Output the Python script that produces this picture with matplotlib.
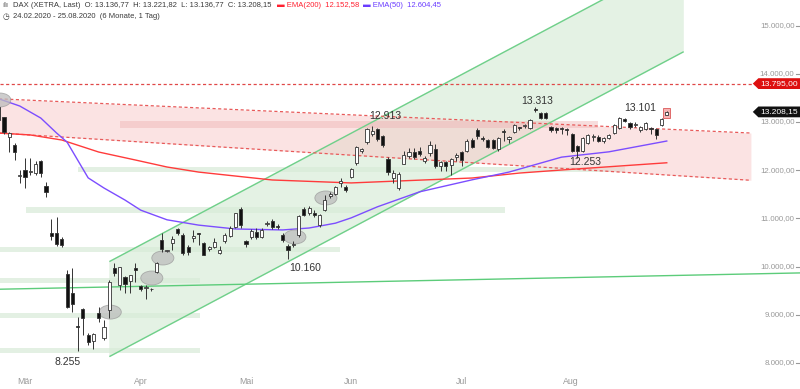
import numpy as np
import matplotlib.pyplot as plt
from matplotlib.patches import Ellipse, Polygon
import matplotlib.transforms as mtransforms

plt.rcParams['font.family'] = ['Liberation Sans', 'DejaVu Sans']

# daily candles 24.02.2020 - 25.08.2020 (open, high, low, close)
opens = [13300, 13100, 12690, 12520, 11880, 12003, 11960, 11940, 12190, 11670,
         10697, 10697, 10572, 9846, 9452, 8750, 9120, 8581, 8457, 9037,
         8519, 9099, 9970, 9618, 9783, 9700, 9970, 9597, 9560, 9540,
         9890, 10551, 10320, 10489, 10779, 10655, 10406, 10600, 10690, 10489,
         10370, 10406, 10282, 10530, 10640, 10820, 11195, 10530, 10614, 10720,
         10614, 10880, 10945, 10830, 10650, 10430, 10440, 10650, 11200, 11110,
         11120, 10862, 11174, 11470, 11510, 11735, 11650, 11860, 12140, 12390,
         12580, 12740, 12850, 12700, 12230, 11840, 11620, 12130, 12300, 12376,
         12400, 12190, 12356, 12440, 12090, 12160, 12100, 12280, 12376, 12400,
         12625, 12830, 12650, 12625, 12625, 12440, 12800, 12650, 12790, 12880,
         12910, 12874, 13260, 13185, 13185, 12895, 12880, 12860, 12840, 12750,
         12500, 12400, 12563, 12680, 12690, 12600, 12667, 12770, 12874, 13060,
         12978, 12940, 12833, 12853, 12860, 12853, 12936, 13137]
highs = [13380, 13110, 12790, 12563, 12003, 12252, 12252, 12200, 12220, 11755,
         10987, 11028, 10614, 9929, 9970, 8954, 9141, 8622, 8622, 9161,
         8892, 9721, 10075, 10000, 9800, 9830, 10075, 9620, 9618, 9560,
         10100, 10697, 10350, 10630, 10800, 10700, 10440, 10760, 10700, 10500,
         10430, 10600, 10430, 10700, 10850, 11120, 11230, 10560, 10780, 10790,
         10800, 10940, 10980, 10880, 10700, 10470, 10530, 11080, 11230, 11260,
         11180, 11100, 11485, 11540, 11680, 11830, 11700, 12050, 12500, 12460,
         12870, 12913, 12870, 12720, 12280, 12000, 11960, 12390, 12450, 12450,
         12480, 12290, 12600, 12540, 12200, 12200, 12250, 12350, 12400, 12650,
         12660, 12870, 12700, 12650, 12650, 12680, 12850, 12700, 12960, 12900,
         12950, 13060, 13313, 13200, 13210, 12920, 12900, 12900, 12880, 12780,
         12520, 12680, 12740, 12760, 12720, 12690, 12750, 12960, 13101, 13090,
         13000, 12990, 12920, 13000, 12900, 12870, 13080, 13222]
lows = [13000, 12760, 12376, 12210, 11735, 11630, 11900, 11900, 11860, 11444,
        10551, 10427, 10406, 9140, 9058, 8255, 8581, 8374, 8300, 8850,
        8480, 8930, 9800, 9514, 9450, 9452, 9680, 9500, 9330, 9500,
        9870, 10300, 10300, 10344, 10650, 10240, 10240, 10500, 10450, 10230,
        10330, 10380, 10260, 10480, 10620, 10800, 10800, 10400, 10570, 10580,
        10590, 10850, 10780, 10780, 10500, 10160, 10400, 10620, 11050, 11080,
        11020, 10830, 11150, 11430, 11480, 11660, 11550, 11830, 12100, 12350,
        12540, 12700, 12600, 12480, 11900, 11740, 11580, 12120, 12250, 12230,
        12300, 12150, 12300, 12050, 11990, 11980, 11900, 12200, 12080, 12380,
        12450, 12640, 12600, 12460, 12440, 12400, 12600, 12560, 12780, 12830,
        12880, 12850, 13200, 13060, 13060, 12800, 12780, 12750, 12720, 12379,
        12253, 12380, 12540, 12600, 12580, 12560, 12640, 12760, 12860, 12990,
        12850, 12900, 12800, 12840, 12760, 12650, 12920, 13137]
closes = [13035, 12790, 12775, 12367, 11890, 11857, 11985, 12127, 11944, 11542,
          10625, 10475, 10439, 9161, 9232, 8742, 8939, 8442, 8610, 8929,
          8742, 9690, 9874, 9991, 9633, 9816, 9936, 9544, 9571, 9525,
          10075, 10356, 10333, 10565, 10697, 10280, 10301, 10626, 10676, 10249,
          10416, 10514, 10336, 10659, 10796, 11107, 10862, 10467, 10730, 10606,
          10760, 10904, 10825, 10820, 10543, 10337, 10465, 11058, 11075, 11223,
          11066, 11074, 11391, 11505, 11657, 11781, 11587, 12021, 12487, 12431,
          12848, 12820, 12642, 12530, 11970, 11949, 11911, 12315, 12382, 12281,
          12331, 12262, 12523, 12093, 12177, 12089, 12232, 12311, 12210, 12605,
          12480, 12700, 12646, 12480, 12460, 12667, 12790, 12690, 12936, 12874,
          12920, 13040, 13248, 13080, 13080, 12838, 12839, 12850, 12833, 12400,
          12400, 12667, 12730, 12690, 12600, 12667, 12730, 12936, 13080, 13020,
          12895, 12957, 12895, 12978, 12853, 12729, 13060, 13208]

# EMA lines (candle index, value)
ema50_idx = [0, 4, 8, 11, 13, 15, 17, 20, 24, 27, 32, 38, 45, 54, 59, 64, 67, 72,
             80, 84, 90, 97, 107, 116, 127]
ema50_val = [13480, 13330, 13080, 12770, 12580, 12210, 11840, 11630, 11380, 11170,
             10970, 10860, 10780, 10760, 10800, 10900, 11010, 11240, 11550, 11650,
             11800, 11960, 12270, 12380, 12604]
ema200_idx = [0, 6, 12, 19, 26, 32, 38, 52, 67, 76, 90, 99, 107, 127]
ema200_val = [12770, 12730, 12625, 12376, 12210, 12065, 11960, 11796, 11735, 11775,
              11837, 11940, 12003, 12153]

month_idx = [5, 27, 47, 67, 88, 108.8]
month_lbl = ['Mär', 'Apr', 'Mai', 'Jun', 'Jul', 'Aug']
yticks = [8000, 9000, 10000, 11000, 12000, 13000, 14000, 15000]

# drawing tools
chan_x = [21.15, 130.1]
chan_low = [8140, 14450]
chan_high = [10110, 16420]
trend_x = [0, 153]
trend_val = [9530, 9870]
zones = [(15, 119, 11960, 12065), (5.2, 96.2, 11112, 11236), (0, 64.9, 10303, 10406),
         (0, 38.3, 9659, 9763), (0, 38.3, 8934, 9037), (0, 38.3, 8207, 8311)]
pink_x = [0, 143]
pink_high = [13480, 12770]
pink_low = [12770, 11790]
pink_band = (23, 114, 12874, 13020)
marks = [(0.2, 13455), (21.2, 9056), (29.1, 9763), (31.2, 10178), (56.3, 10614), (62.2, 11423)]
resist = 13795
notes = [(13, 8025, '8.255'), (58.2, 9971, '10.160'), (73.4, 13123, '12.913'),
         (102.3, 13434, '13.313'), (121.9, 13289, '13.101'), (111.5, 12169, '12.253')]

fig = plt.figure(figsize=(8, 3.89), dpi=100)
ax = fig.add_axes([0, 0, 1, 1])
ax.set_xlim(0.24, 152.33)
ax.set_ylim(7461, 15529)
ax.axis('off')

# green channel
ax.fill_between(chan_x, chan_low, chan_high, color='#e4f2e4', zorder=1)
ax.plot(chan_x, chan_low, color='#6fd08a', lw=1, zorder=3)
ax.plot(chan_x, chan_high, color='#6fd08a', lw=1, zorder=3)

for x0, x1, lo, hi in zones:
    ax.fill_between([x0, x1], lo, hi, color='#d8ebd8', alpha=0.7, lw=0, zorder=1)

# pink zone
ax.fill_between(pink_x, pink_low, pink_high, color='#f8c8c8', alpha=0.5, lw=0, zorder=2)
ax.plot(pink_x, pink_high, color='#e85a5a', lw=0.9, ls=(0, (2.5, 2)), zorder=3)
ax.plot(pink_x, pink_low, color='#e85a5a', lw=0.9, ls=(0, (2.5, 2)), zorder=3)
ax.fill_between(pink_band[:2], pink_band[2], pink_band[3], color='#eeb4b4', alpha=0.45, lw=0, zorder=2)

ax.axhline(resist, color='#e04848', lw=0.9, ls=(0, (2.5, 2)), zorder=3)
ax.plot(trend_x, trend_val, color='#5ccc7a', lw=1, zorder=3)

ax.plot(ema200_idx, ema200_val, color='#ff3b3b', lw=1, zorder=4)
ax.plot(ema50_idx, ema50_val, color='#7c4dff', lw=1, zorder=4)

for cx, cy in marks:
    ax.add_patch(Ellipse((cx, cy), 4.2, 290, facecolor='#bdbdbd', edgecolor='#999999',
                         lw=0.6, alpha=0.75, zorder=4))

# alert box on the last candle
ax.bar(len(closes) - 1, 200, bottom=13090, width=1.3, color='#f6b4b4', edgecolor='#e06a6a',
       lw=0.7, zorder=4)

# candles
idx = np.arange(len(closes))
o = np.array(opens)
c = np.array(closes)
ax.vlines(idx, lows, highs, color='#333333', lw=0.7, zorder=5)
bottom = np.minimum(o, c)
height = np.maximum(np.abs(c - o), 18)
cols = np.where(c < o, '#111111', '#ffffff')
ax.bar(idx, height, bottom=bottom, width=0.6, color=cols, edgecolor='#333333', lw=0.6, zorder=6)

for nx, ny, txt in notes:
    ax.text(nx, ny, txt, fontsize=7.5, color='#333333', ha='center', va='center', zorder=7)

# y axis labels
tr = mtransforms.blended_transform_factory(ax.transAxes, ax.transData)
for v in yticks:
    lbl = f'{v:,.2f}'.replace(',', 'X').replace('.', ',').replace('X', '.')
    ax.text(0.993, v, lbl, transform=tr, ha='right', va='center', fontsize=5.7, color='#999999')
    ax.plot([0.995, 0.9995], [v, v], transform=tr, color='#999999', lw=0.8)

trb = mtransforms.blended_transform_factory(ax.transData, ax.transAxes)
for mi, ml in zip(month_idx, month_lbl):
    ax.text(mi, 0.018, ml, transform=trb, ha='center', va='center', fontsize=6.3, color='#999999')

# price tags
def tag(v, txt, col):
    h = 112
    ax.add_patch(Polygon([(0.941, v), (0.948, v + h), (1.0, v + h), (1.0, v - h), (0.948, v - h)],
                         closed=True, transform=tr, facecolor=col, edgecolor='none', zorder=8))
    ax.text(0.9735, v, txt, transform=tr, ha='center', va='center', fontsize=6, color='white', zorder=9)

tag(resist, '13.795,00', '#dd1010')
tag(closes[-1], '13.208,15', '#111111')

# header
fig.text(0.016, 0.986, 'DAX (XETRA, Last)  O: 13.136,77  H: 13.221,82  L: 13.136,77  C: 13.208,15',
         fontsize=5.5, color='#3a3a3a', va='center')
fig.text(0.346, 0.986, '▬ EMA(200)  12.152,58', fontsize=5.5, color='#ff2030', va='center')
fig.text(0.454, 0.986, '▬ EMA(50)  12.604,45', fontsize=5.5, color='#6a3cff', va='center')
fig.text(0.003, 0.986, 'ılı', fontsize=5.5, color='#3a3a3a', va='center')
fig.text(0.003, 0.958, '◷', fontsize=5.5, color='#3a3a3a', va='center', family='DejaVu Sans')
fig.text(0.016, 0.958, '24.02.2020 - 25.08.2020  (6 Monate, 1 Tag)', fontsize=5.5, color='#3a3a3a', va='center')

fig.savefig('out.png', dpi=100)
